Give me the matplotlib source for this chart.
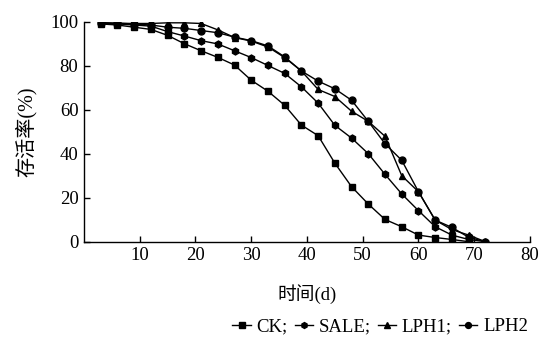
import matplotlib
matplotlib.use("Agg")
import matplotlib.pyplot as plt

plt.rcParams['font.family'] = ['Liberation Serif', 'Noto Sans CJK SC']

days = [3, 6, 9, 12, 15, 18, 21, 24, 27, 30, 33, 36, 39, 42, 45, 48, 51, 54, 57, 60, 63, 66, 69, 72]
ck = [99, 98.5, 97.5, 96.5, 93.8, 90, 86.8, 83.8, 80.3, 73.4, 68.4, 62, 53, 48.2, 35.7, 25, 17.1, 10.1, 6.8, 3, 1.9, 1, 0]
sale = [99.5, 99, 98.5, 98, 95.5, 93.5, 91.4, 89.9, 86.8, 83.7, 80.1, 76.5, 70.4, 63, 52.9, 47.1, 40, 30.6, 21.7, 14.1, 6.8, 3, 1, 0]
lph1 = [99.5, 99.3, 99.2, 99.2, 99.5, 99.5, 99.2, 96.3, 92.8, 91.2, 88.5, 83.7, 77.6, 69.2, 66, 59.3, 54.7, 47.9, 30, 22.7, 9.8, 5.5, 3, 0]
lph2 = [99.5, 99.3, 99, 98.5, 97.5, 97, 96, 95, 93, 91.4, 89, 84, 77.6, 73, 69.5, 64.3, 54.7, 44.5, 37, 22.7, 9.8, 6.5, 2, 0]
labels = ['CK;', 'SALE;', 'LPH1;', 'LPH2']
xticks = [10, 20, 30, 40, 50, 60, 70, 80]
yticks = [0, 20, 40, 60, 80, 100]

fig = plt.figure(figsize=(5.43, 3.42), dpi=100)
ax = fig.add_axes([0.1547, 0.2933, 0.8213, 0.6432])

kw = dict(color='black', lw=1.0, markersize=5)
ax.plot(days[:len(ck)], ck, marker='s', label=labels[0], **kw)
ax.plot(days, sale, marker='h', label=labels[1], **kw)
ax.plot(days, lph1, marker='^', label=labels[2], **kw)
ax.plot(days, lph2, marker='o', label=labels[3], **kw)

ax.set_xlim(0, 80)
ax.set_ylim(0, 100)
ax.set_xticks(xticks)
ax.set_yticks(yticks)
ax.tick_params(direction='in', length=4, width=1, labelsize=13.5, colors='black', pad=4)
for s in ['top', 'right']:
    ax.spines[s].set_visible(False)
for s in ['left', 'bottom']:
    ax.spines[s].set_linewidth(1.0)

ax.set_xlabel('时间(d)', fontsize=13.5, labelpad=14)
ax.set_ylabel('存活率(%)', fontsize=14.5, labelpad=10)

fig.legend(loc='center', bbox_to_anchor=(0.70, 0.045), ncol=4, frameon=False,
           fontsize=13.5, handlelength=1.0, handletextpad=0.3, columnspacing=0.35,
           borderpad=0, markerscale=0.85)

fig.savefig('out.png', dpi=100)
